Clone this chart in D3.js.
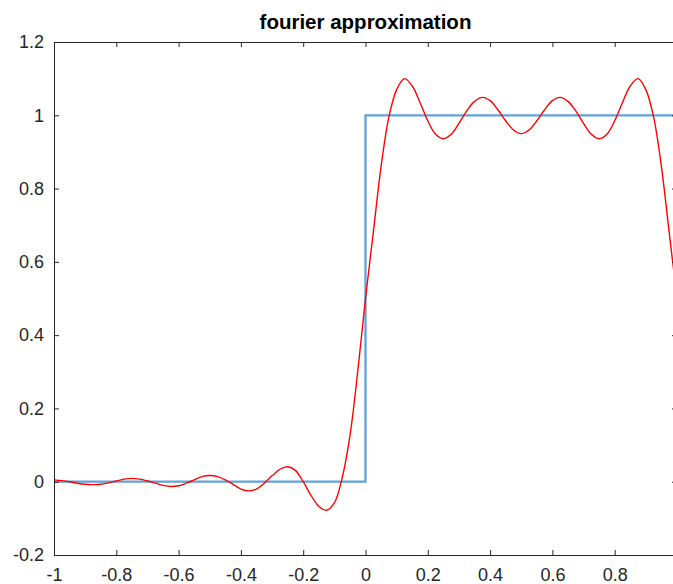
<!DOCTYPE html>
<html>
<head>
<meta charset="utf-8">
<script src="https://cdn.jsdelivr.net/npm/d3@7"></script>
<style>
  body { margin: 0; background: #fff; overflow: hidden; }
  svg { display: block; }
</style>
</head>
<body>
<svg id="chart" width="673" height="584"></svg>
<script>
// Data
const stepX = [-1, 0, 0, 1];
const stepY = [0, 0, 1, 1];

const approxX = [
  -1.000, -0.975, -0.950, -0.925, -0.900, -0.875, -0.850, -0.825, -0.800, -0.775,
  -0.750, -0.725, -0.700, -0.675, -0.650, -0.625, -0.600, -0.575, -0.550, -0.525,
  -0.500, -0.475, -0.450, -0.425, -0.400, -0.375, -0.350, -0.325, -0.300, -0.275,
  -0.250, -0.225, -0.200, -0.175, -0.150, -0.125, -0.100, -0.075, -0.050, -0.025,
   0.000,  0.025,  0.050,  0.075,  0.100,  0.125,  0.150,  0.175,  0.200,  0.225,
   0.250,  0.275,  0.300,  0.325,  0.350,  0.375,  0.400,  0.425,  0.450,  0.475,
   0.500,  0.525,  0.550,  0.575,  0.600,  0.625,  0.650,  0.675,  0.700,  0.725,
   0.750,  0.775,  0.800,  0.825,  0.850,  0.875,  0.900,  0.925,  0.950,  0.975,
   1.000
];
const approxY = [
   0.005,  0.003,  0.000, -0.004, -0.007, -0.008, -0.007, -0.003,  0.002,  0.007,
   0.009,  0.007,  0.002, -0.004, -0.010, -0.013, -0.011, -0.004,  0.005,  0.014,
   0.017,  0.014,  0.005, -0.007, -0.020, -0.025, -0.020, -0.004,  0.016,  0.034,
   0.041,  0.031,  0.000, -0.037, -0.067, -0.078, -0.058,  0.010,  0.125,  0.300,
   0.500,  0.680,  0.860,  0.995,  1.070,  1.100,  1.080,  1.035,  0.985,  0.948,
   0.936,  0.948,  0.978,  1.012,  1.038,  1.049,  1.040,  1.015,  0.985,  0.960,
   0.950,  0.960,  0.985,  1.015,  1.040,  1.049,  1.038,  1.012,  0.978,  0.948,
   0.936,  0.948,  0.985,  1.035,  1.080,  1.100,  1.070,  0.995,  0.860,  0.680,
   0.500
];

const xTicks = [-1, -0.8, -0.6, -0.4, -0.2, 0, 0.2, 0.4, 0.6, 0.8, 1];
const yTicks = [-0.2, 0, 0.2, 0.4, 0.6, 0.8, 1, 1.2];
const titleText = "fourier approximation";

const svg = d3.select("#chart");
const plotLeft = 54, plotRight = 677, plotTop = 42, plotBottom = 555;
const axisColor = "#262626";
const font = "'Liberation Sans', Arial, Helvetica, sans-serif";

const x = d3.scaleLinear().domain([-1, 1]).range([plotLeft, plotRight]);
const y = d3.scaleLinear().domain([-0.2, 1.2]).range([plotBottom, plotTop]);

// clip to the axes box
svg.append("clipPath").attr("id", "plot-clip")
  .append("rect")
  .attr("x", plotLeft).attr("y", plotTop)
  .attr("width", plotRight - plotLeft).attr("height", plotBottom - plotTop);

const plot = svg.append("g").attr("clip-path", "url(#plot-clip)");

// step function (blue)
const stepData = stepX.map((d, i) => [d, stepY[i]]);
plot.append("path")
  .datum(stepData)
  .attr("fill", "none")
  .attr("stroke", "#5fa3db")
  .attr("stroke-width", 2.3)
  .attr("d", d3.line().x(d => x(d[0])).y(d => y(d[1])));

// fourier approximation (red)
const approxData = approxX.map((d, i) => [d, approxY[i]]);
plot.append("path")
  .datum(approxData)
  .attr("fill", "none")
  .attr("stroke", "#ff0000")
  .attr("stroke-width", 1.4)
  .attr("d", d3.line().curve(d3.curveCatmullRom.alpha(0.5))
    .x(d => x(d[0])).y(d => y(d[1])));

// axes, ticks pointing inward like the original; plain hyphen for minus
const fmt = d => String(d);
// the "1" label falls outside the window in the reference, keep its tick only
const fmtX = d => (x(d) > 660 ? "" : String(d));

const gx = svg.append("g").attr("transform", `translate(0,${plotBottom})`)
  .call(d3.axisBottom(x).tickValues(xTicks).tickFormat(fmtX)
    .tickSizeInner(-5).tickSizeOuter(0).tickPadding(13));
const gxTop = svg.append("g").attr("transform", `translate(0,${plotTop})`)
  .call(d3.axisTop(x).tickValues(xTicks).tickFormat("")
    .tickSizeInner(-5).tickSizeOuter(0));
const gy = svg.append("g").attr("transform", `translate(${plotLeft},0)`)
  .call(d3.axisLeft(y).tickValues(yTicks).tickFormat(fmt)
    .tickSizeInner(-5).tickSizeOuter(0).tickPadding(10));
const gyRight = svg.append("g").attr("transform", `translate(${plotRight},0)`)
  .call(d3.axisRight(y).tickValues(yTicks).tickFormat("")
    .tickSizeInner(-5).tickSizeOuter(0));

[gx, gxTop, gy, gyRight].forEach(g => {
  g.selectAll("path, line").attr("stroke", axisColor).attr("stroke-width", 1);
  g.selectAll("text")
    .attr("fill", axisColor)
    .style("font-family", font)
    .style("font-size", "18px");
});

// title
svg.append("text")
  .attr("x", (plotLeft + plotRight) / 2)
  .attr("y", 29)
  .attr("text-anchor", "middle")
  .attr("fill", "#000")
  .style("font-family", font)
  .style("font-size", "20.5px")
  .style("font-weight", "bold")
  .text(titleText);
</script>
</body>
</html>
